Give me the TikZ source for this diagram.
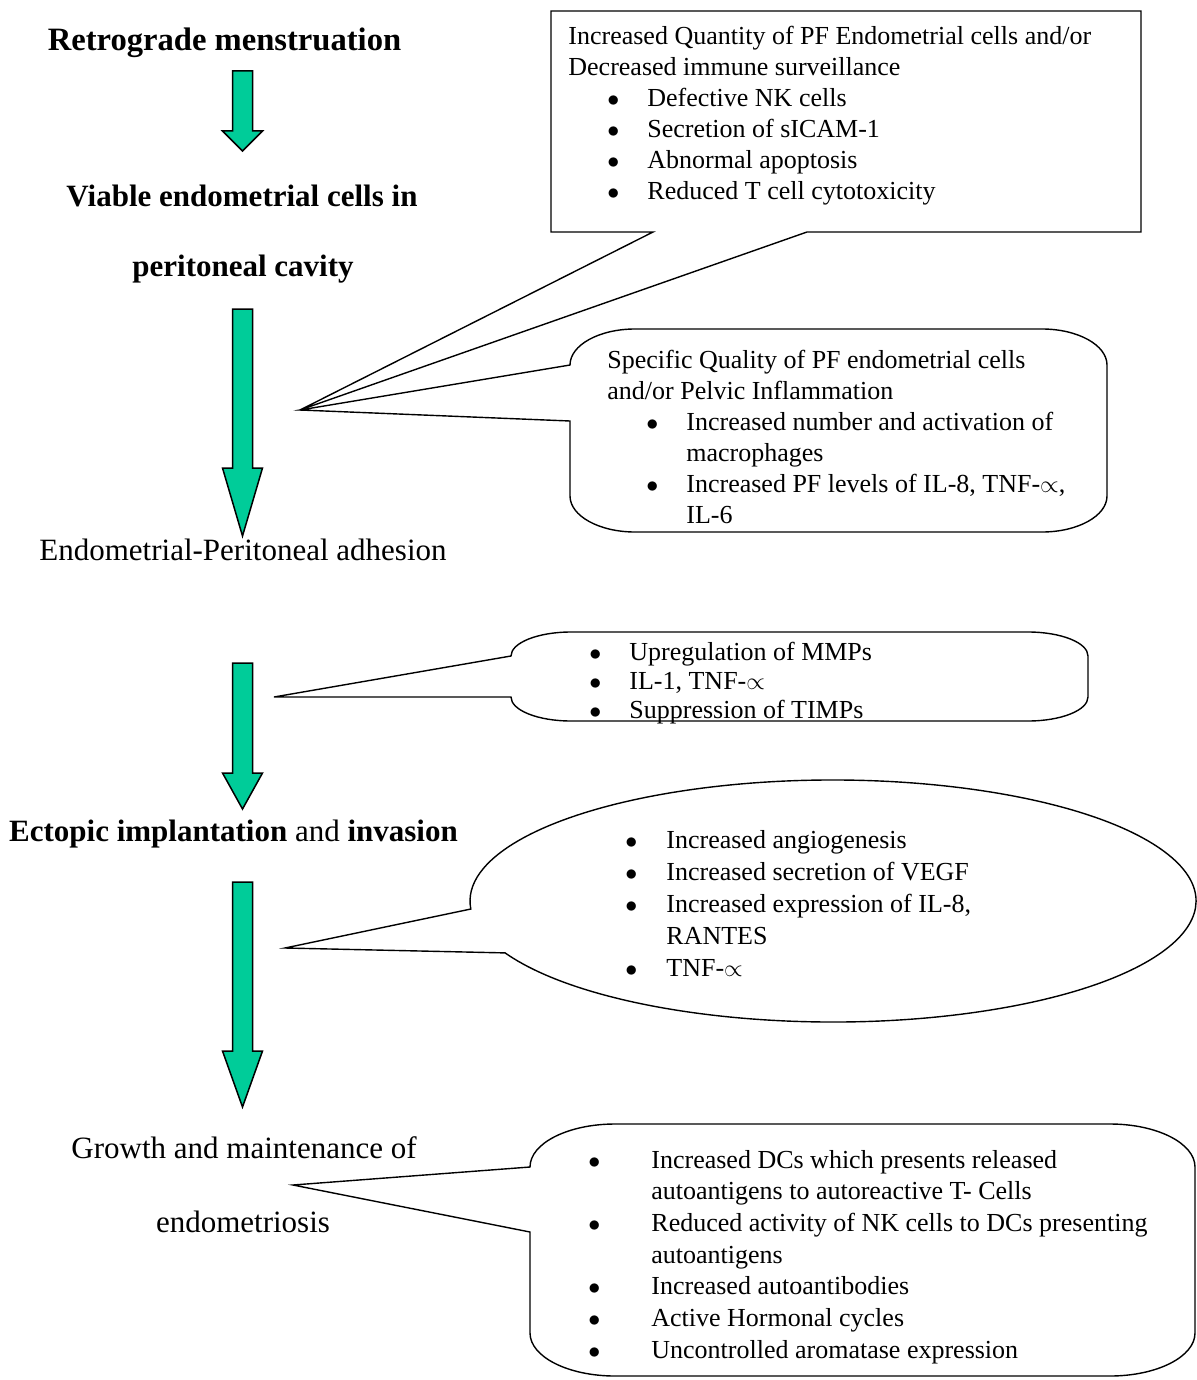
\documentclass[tikz,border=0pt]{standalone}
\usepackage{fontspec}
\setmainfont{Liberation Serif}
\usetikzlibrary{calc}
\definecolor{arrowgreen}{RGB}{0,204,153}
\tikzstyle{stage} = [anchor=base, inner sep=0pt, font=\fontsize{15.5}{19}\selectfont]
\tikzstyle{note} = [anchor=base west, inner sep=0pt, font=\fontsize{13}{15.75}\selectfont]
\tikzstyle{downarrow} = [draw=black, line width=0.75pt, fill=arrowgreen, line join=miter]
\tikzstyle{callout} = [draw=black, line width=0.7pt, line join=miter]
\newcommand{\bul}[1]{\makebox[#1][l]{$\bullet$}}

\begin{document}
\begin{tikzpicture}[x=0.5pt, y=-0.5pt]
            \useasboundingbox (0,0) rectangle (1197,1380);
            \node (retro) [stage, font=\fontsize{16.3}{19}\selectfont] at (224.5,51) {\bfseries Retrograde menstruation};
            \node (viable) [stage] at (242,206) {\bfseries Viable endometrial cells in};
            \node (cavity) [stage] at (243,277) {\bfseries peritoneal cavity};
            \node (adhesion) [stage] at (243,560) {Endometrial-Peritoneal adhesion};
            \node (ectopic) [stage] at (233.5,841) {\textbf{Ectopic implantation} and \textbf{invasion}};
            \node (growth) [stage] at (244,1158) {Growth and maintenance of};
            \node (endo) [stage] at (243,1232) {endometriosis};
            \foreach \top/\neck/\tip in {71/131/151, 309/468/536, 663/773/809, 882/1051/1107}
                \draw [downarrow] (232.5,\top) -- (252.5,\top) -- (252.5,\neck) -- (262.5,\neck) -- (242.5,\tip) -- (222.5,\neck) -- (232.5,\neck) -- cycle;
            \coordinate (tipA) at (300,410);
            \coordinate (tipB) at (274,697);
            \coordinate (tipC) at (285,948);
            \coordinate (tipD) at (293,1185);
            \coordinate (ellc) at (833,901);
            \draw [callout] (551,11) -- (1141,11) -- (1141,232) -- (807,232) -- (tipA) -- (653,232) -- (551,232) -- cycle;
            \draw [callout] (tipA) -- (570,421) -- (570,496) arc[start angle=180, end angle=90, x radius=65, y radius=36]
                -- (1042,532) arc[start angle=90, end angle=0, x radius=65, y radius=36]
                -- (1107,365) arc[start angle=0, end angle=-90, x radius=65, y radius=36]
                -- (635,329) arc[start angle=-90, end angle=-180, x radius=65, y radius=36] -- cycle;
            \draw [callout] (tipB) -- (511,697) arc[start angle=180, end angle=90, x radius=60, y radius=24]
                -- (1028,721) arc[start angle=90, end angle=0, x radius=60, y radius=24]
                -- (1088,656) arc[start angle=0, end angle=-90, x radius=60, y radius=24]
                -- (571,632) arc[start angle=-90, end angle=-180, x radius=60, y radius=24] -- cycle;
            \draw [callout] (tipC) -- ($(ellc)+(154.6:363 and 121)$) arc[start angle=154.6, end angle=-183.8, x radius=363, y radius=121] -- cycle;
            \draw [callout] (tipD) -- (530,1232) -- (530,1333) arc[start angle=180, end angle=90, x radius=85, y radius=43]
                -- (1110,1376) arc[start angle=90, end angle=0, x radius=85, y radius=43]
                -- (1195,1167) arc[start angle=0, end angle=-90, x radius=85, y radius=43]
                -- (615,1124) arc[start angle=-90, end angle=-180, x radius=85, y radius=43] -- cycle;
            \node (quantity) [note, font=\fontsize{13}{15.5}\selectfont] at (568,45) {\begin{tabular}[t]{@{}l@{}}
                Increased Quantity of PF Endometrial cells and/or\\
                Decreased immune surveillance\\
                \hspace*{19.5pt}\bul{20pt}Defective NK cells\\
                \hspace*{19.5pt}\bul{20pt}Secretion of sICAM-1\\
                \hspace*{19.5pt}\bul{20pt}Abnormal apoptosis\\
                \hspace*{19.5pt}\bul{20pt}Reduced T cell cytotoxicity
                \end{tabular}};
            \node (quality) [note, font=\fontsize{13}{15.5}\selectfont] at (607,368) {\begin{tabular}[t]{@{}l@{}}
                Specific Quality of PF endometrial cells\\
                and/or Pelvic Inflammation\\
                \hspace*{19.5pt}\bul{20pt}Increased number and activation of\\
                \hspace*{39.5pt}macrophages\\
                \hspace*{19.5pt}\bul{20pt}Increased PF levels of IL-8, TNF-$\propto$,\\
                \hspace*{39.5pt}IL-6
                \end{tabular}};
            \node (mmps) [note, font=\fontsize{13}{14.5}\selectfont] at (589,660) {\begin{tabular}[t]{@{}l@{}}
                \bul{20pt}Upregulation of MMPs\\
                \bul{20pt}IL-1, TNF-$\propto$\\
                \bul{20pt}Suppression of TIMPs
                \end{tabular}};
            \node (angio) [note, font=\fontsize{13}{16}\selectfont] at (625,848) {\begin{tabular}[t]{@{}l@{}}
                \bul{20.5pt}Increased angiogenesis\\
                \bul{20.5pt}Increased secretion of VEGF\\
                \bul{20.5pt}Increased expression of IL-8,\\
                \hspace*{20.5pt}RANTES\\
                \bul{20.5pt}TNF-$\propto$
                \end{tabular}};
            \node (dcs) [note, font=\fontsize{13}{15.85}\selectfont] at (588,1168) {\begin{tabular}[t]{@{}l@{}}
                \bul{31.5pt}Increased DCs which presents released\\
                \hspace*{31.5pt}autoantigens to autoreactive T- Cells\\
                \bul{31.5pt}Reduced activity of NK cells to DCs presenting\\
                \hspace*{31.5pt}autoantigens\\
                \bul{31.5pt}Increased autoantibodies\\
                \bul{31.5pt}Active Hormonal cycles\\
                \bul{31.5pt}Uncontrolled aromatase expression
                \end{tabular}};
        \end{tikzpicture}
\end{document}
